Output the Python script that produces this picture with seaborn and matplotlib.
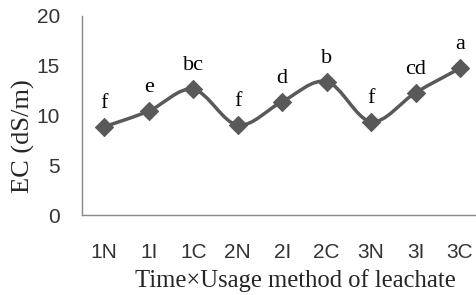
import numpy as np
import pandas as pd
import matplotlib
matplotlib.use('Agg')
import matplotlib.pyplot as plt
import seaborn as sns
from matplotlib.path import Path
from matplotlib.patches import PathPatch

treatments = ['1N', '1I', '1C', '2N', '2I', '2C', '3N', '3I', '3C']
ec = [8.87, 10.45, 12.63, 9.04, 11.39, 13.40, 9.38, 12.29, 14.74]
letters = ['f', 'e', 'bc', 'f', 'd', 'b', 'f', 'cd', 'a']

df = pd.DataFrame({'treatment': treatments, 'EC': ec})

sns.set_style('white')
fig = plt.figure(figsize=(4.77, 2.95), dpi=100)
ax = fig.add_axes([0.172, 0.271, 0.839, 0.675])

line_col = '#595959'
axis_col = '#898989'

# smoothed line like excel (bezier through the points)
pts = np.column_stack([np.arange(len(ec)), ec]).astype(float)
verts = [tuple(pts[0])]
codes = [Path.MOVETO]
n = len(pts)
for i in range(n - 1):
    p0 = pts[max(i - 1, 0)]
    p1 = pts[i]
    p2 = pts[i + 1]
    p3 = pts[min(i + 2, n - 1)]
    c1 = p1 + (p2 - p0) / 6
    c2 = p2 - (p3 - p1) / 6
    verts += [tuple(c1), tuple(c2), tuple(p2)]
    codes += [Path.CURVE4] * 3
ax.add_patch(PathPatch(Path(verts, codes), fill=False, edgecolor=line_col,
                       lw=2.5, zorder=2))

sns.scatterplot(data=df, x='treatment', y='EC', marker='D', s=85,
                color=line_col, edgecolor=line_col, ax=ax, zorder=3)

for i, (v, lab) in enumerate(zip(ec, letters)):
    ax.annotate(lab, (i, v), xytext=(0, 17), textcoords='offset points',
                ha='center', va='center', fontsize=16,
                family='Liberation Serif', color='black')

ax.set_xlim(-0.5, 8.5)
ax.set_ylim(0, 20)
ax.set_yticks([0, 5, 10, 15, 20])
ax.set_xticks(range(len(treatments)))
ax.set_xticklabels(treatments)
ax.set_xticks(np.arange(-0.5, 9, 1), minor=True)
ax.tick_params(axis='x', which='major', length=0, pad=20, labelsize=15,
               colors='black')
ax.tick_params(axis='x', which='minor', length=5, width=1, color=axis_col,
               direction='out')
ax.tick_params(axis='y', length=5, width=1, color=axis_col, direction='out',
               labelsize=15, pad=11)
ax.tick_params(axis='y', labelcolor='#333333')
ax.tick_params(axis='x', labelcolor='#333333')
for lab in ax.get_xticklabels() + ax.get_yticklabels():
    lab.set_family('Liberation Sans')

sns.despine(ax=ax)
for s in ['left', 'bottom']:
    ax.spines[s].set_color(axis_col)
    ax.spines[s].set_linewidth(1)

ax.set_xlabel('Time\u00d7Usage method of leachate', family='Liberation Serif',
              fontsize=17.7, va='center')
ax.xaxis.set_label_coords(0.533, -0.33)
ax.set_ylabel('EC (dS/m)', family='Liberation Serif', fontsize=19,
              va='center')
ax.yaxis.set_label_coords(-0.147, 0.397)

fig.savefig('out.png', dpi=100)
